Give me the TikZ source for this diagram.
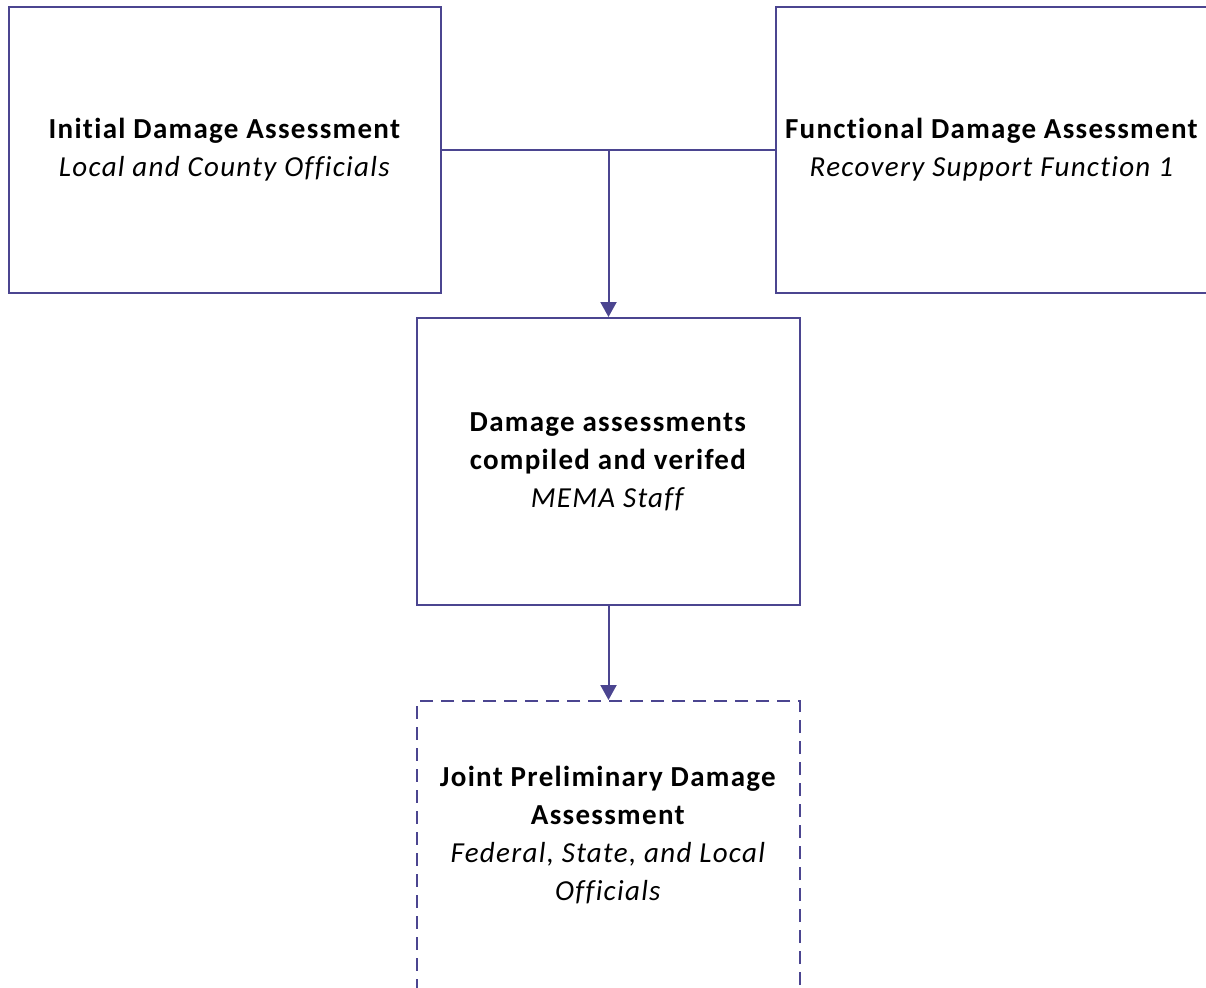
\documentclass[tikz,border=0pt]{standalone}
\usepackage{fontspec}
\setmainfont{Carlito}[LetterSpace=4.5,Ligatures=NoCommon]
\usetikzlibrary{arrows.meta}
\definecolor{lc}{RGB}{75,69,144}
\tikzset{
  box/.style={draw=lc, line width=2pt, minimum width=432pt, minimum height=286pt, align=center, inner sep=0pt, font=\fontsize{29}{38}\selectfont},
  cbox/.style={box, minimum width=383pt, minimum height=287pt},
  dbox/.style={cbox, minimum height=300pt, dash pattern=on 13pt off 8pt},
  txt/.style={align=center, inner sep=0pt, font=\fontsize{29}{38}\selectfont},
  conn/.style={draw=lc, line width=2pt},
  arr/.style={conn, -{Triangle[width=16pt,length=15pt]}}
}
\begin{document}
\begin{tikzpicture}[x=1pt,y=-1pt]
\useasboundingbox (0,0) rectangle (1206,987);
\begin{scope}
\clip (0,0) rectangle (1206,987);
\node[box] (ida) at (225,150) {\textbf{Initial Damage Assessment}\\\textit{Local and County Officials}};
\node[box] (fda) at (992,150) {\textbf{Functional Damage Assessment}\\\textit{Recovery Support Function 1}};
\node[cbox] (comp) at (608.5,461.5) {\textbf{Damage assessments}\\\textbf{compiled and verifed}\\\textit{MEMA Staff}};
\node[dbox] (joint) at (608.5,851) {};
\node[txt] (jointtext) at (608.5,835) {\textbf{Joint Preliminary Damage}\\\textbf{Assessment}\\\textit{Federal, State, and Local}\\\textit{Officials}};
\coordinate (j) at (comp.north |- ida.east);
\draw[conn] (ida.east) -- (fda.west);
\draw[arr] (j) -- (comp.north);
\draw[arr] (comp.south) -- (joint.north);
\end{scope}
\end{tikzpicture}
\end{document}
